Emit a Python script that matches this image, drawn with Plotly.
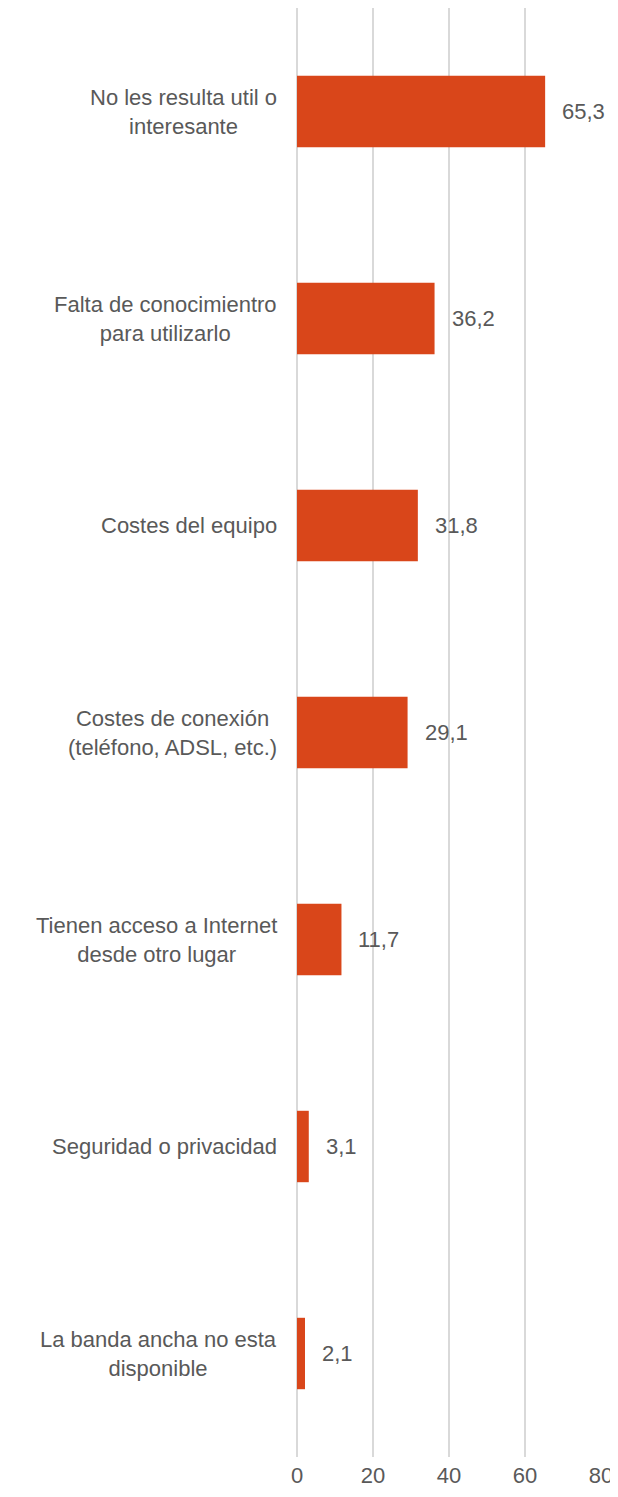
import plotly.graph_objects as go

categorias = [
    "No les resulta util o<br>interesante",
    "Falta de conocimientro<br>para utilizarlo",
    "Costes del equipo",
    "Costes de conexión<br>(teléfono, ADSL, etc.)",
    "Tienen acceso a Internet<br>desde otro lugar",
    "Seguridad o privacidad",
    "La banda ancha no esta<br>disponible",
]
valores = [65.3, 36.2, 31.8, 29.1, 11.7, 3.1, 2.1]
etiquetas_x = [0, 20, 40, 60, 80]

GRIS = "#595959"
NARANJA = "#D9461A"
FUENTE = "Liberation Sans, Arial, sans-serif"

fig = go.Figure()
fig.add_trace(go.Bar(
    x=valores, y=categorias, orientation="h",
    marker=dict(color=NARANJA, line=dict(width=0)),
    width=0.345,
    hoverinfo="skip",
))

# etiquetas de valor (coma decimal)
for c, v in zip(categorias, valores):
    fig.add_annotation(
        x=v, y=c, xref="x", yref="y",
        text=f"{v:.1f}".replace(".", ","),
        showarrow=False, xanchor="left", xshift=15,
        font=dict(family=FUENTE, size=22, color=GRIS),
    )

# etiquetas de categoría centradas
for c in categorias:
    fig.add_annotation(
        x=0, y=c, xref="paper", yref="y",
        text=c, showarrow=False, xanchor="right", align="center",
        xshift=-18,
        font=dict(family=FUENTE, size=22, color=GRIS),
    )

# la página añade 8px de margen al cuerpo
fig.update_layout(
    width=610, height=1481,
    margin=dict(l=289, r=17, t=0, b=32, autoexpand=False),
    plot_bgcolor="white", paper_bgcolor="white",
    showlegend=False,
    font=dict(family=FUENTE, size=22, color=GRIS),
)
fig.update_xaxes(
    range=[0, 80], tickvals=etiquetas_x,
    showgrid=True, gridcolor="#D9D9D9", gridwidth=2,
    zeroline=True, zerolinecolor="#D9D9D9", zerolinewidth=2,
    showline=False, ticks="", ticklabelstandoff=3,
    ticklabeloverflow="allow", automargin=False,
    tickfont=dict(family=FUENTE, size=22, color=GRIS),
)
fig.update_yaxes(
    categoryorder="array", categoryarray=categorias[::-1],
    showticklabels=False, showgrid=False, zeroline=False, showline=False,
    automargin=False,
)

fig.write_html("out.html")
